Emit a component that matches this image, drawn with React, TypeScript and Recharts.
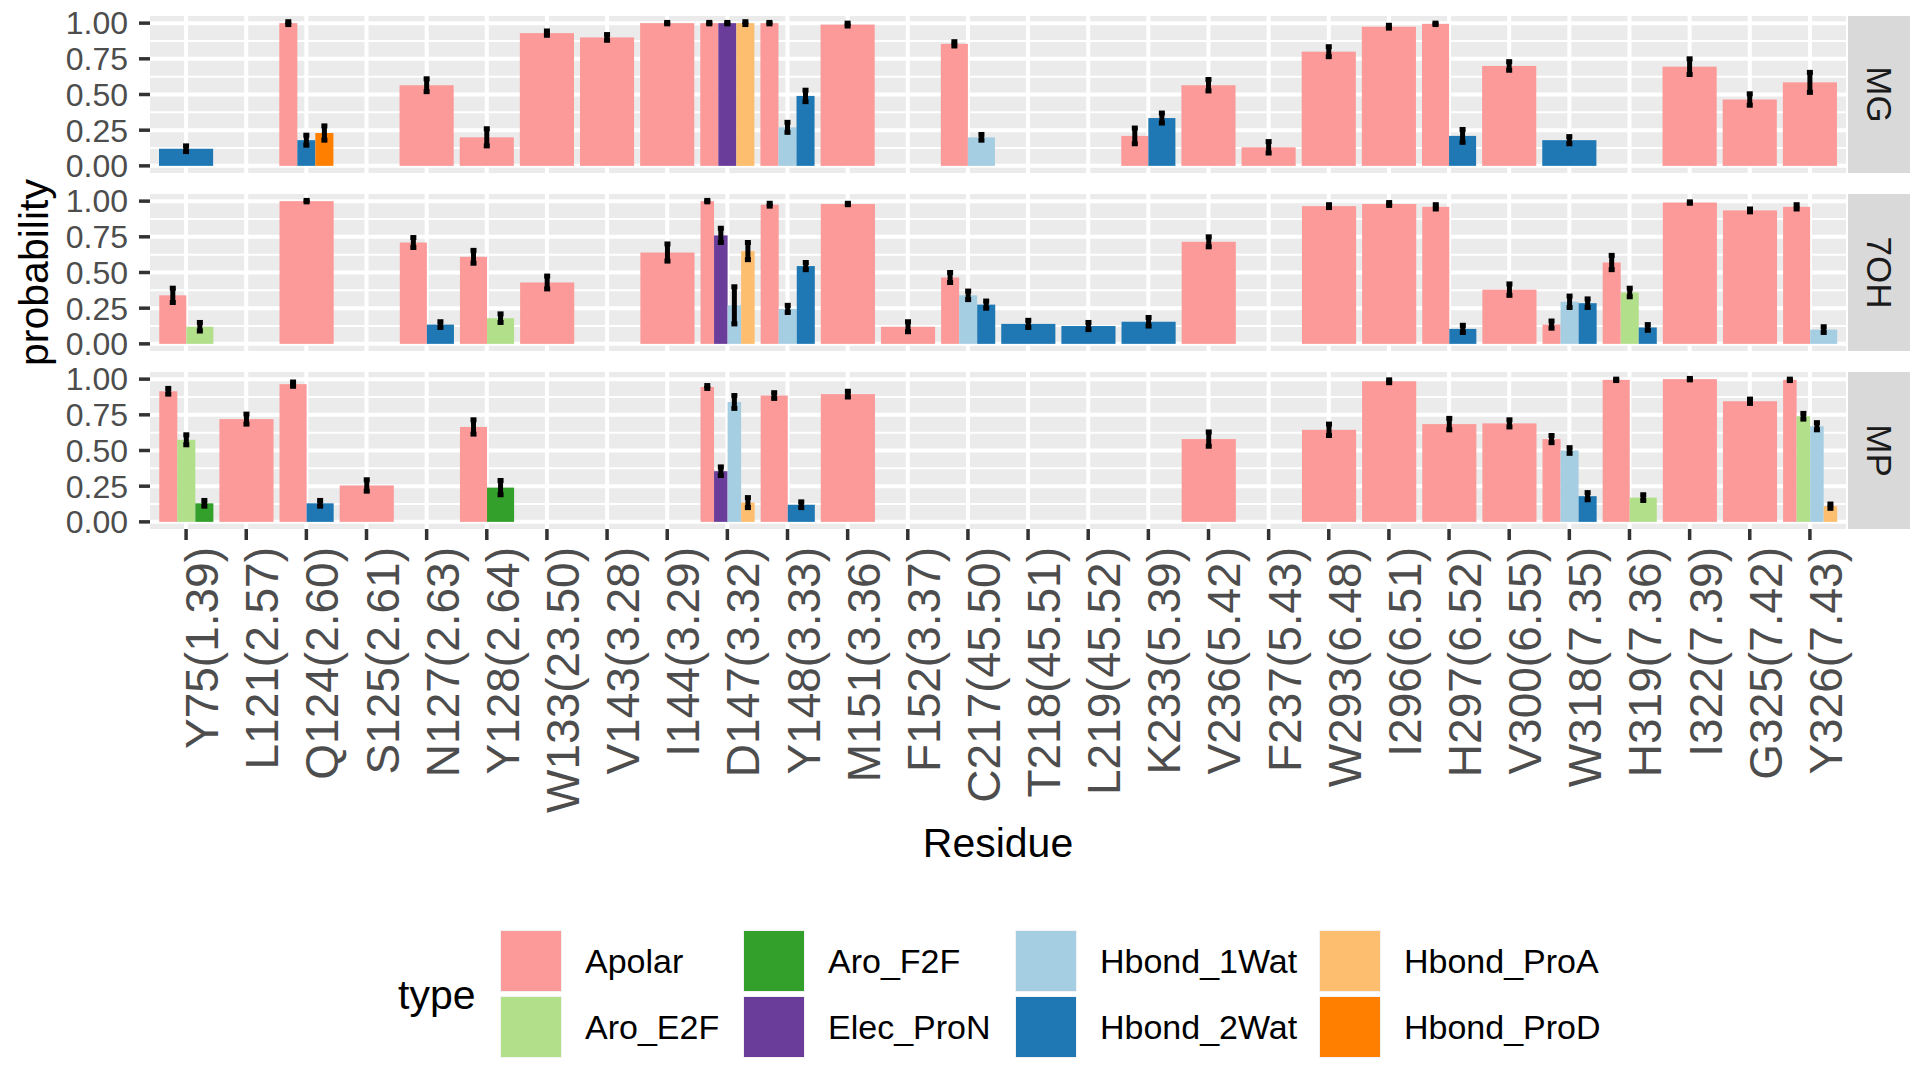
import { BarChart, Bar, XAxis, YAxis, CartesianGrid, ErrorBar } from 'recharts';

const residues = [
  'Y75(1.39)', 'L121(2.57)', 'Q124(2.60)', 'S125(2.61)', 'N127(2.63)', 'Y128(2.64)', 'W133(23.50)',
  'V143(3.28)', 'I144(3.29)', 'D147(3.32)', 'Y148(3.33)', 'M151(3.36)', 'F152(3.37)', 'C217(45.50)',
  'T218(45.51)', 'L219(45.52)', 'K233(5.39)', 'V236(5.42)', 'F237(5.43)', 'W293(6.48)', 'I296(6.51)',
  'H297(6.52)', 'V300(6.55)', 'W318(7.35)', 'H319(7.36)', 'I322(7.39)', 'G325(7.42)', 'Y326(7.43)',
];

const types = ['Apolar', 'Aro_E2F', 'Aro_F2F', 'Elec_ProN', 'Hbond_1Wat', 'Hbond_2Wat', 'Hbond_ProA', 'Hbond_ProD'];
const typeColors = ['#FB9A99', '#B2DF8A', '#33A02C', '#6A3D9A', '#A6CEE3', '#1F78B4', '#FDBF6F', '#FF7F00'];

const yTicks = [0, 0.25, 0.5, 0.75, 1];
const yMinor = [0.125, 0.375, 0.625, 0.875];

// [residue, type, probability, error]
type Row = [string, string, number, number];

const mgRows: Row[] = [
  ['Y75', 'Hbond_2Wat', 0.12, 0.02],
  ['Q124', 'Apolar', 1.0, 0.01],
  ['Q124', 'Hbond_2Wat', 0.18, 0.035],
  ['Q124', 'Hbond_ProD', 0.23, 0.05],
  ['N127', 'Apolar', 0.565, 0.045],
  ['Y128', 'Apolar', 0.2, 0.06],
  ['W133', 'Apolar', 0.93, 0.015],
  ['V143', 'Apolar', 0.9, 0.02],
  ['I144', 'Apolar', 1.0, 0.005],
  ['D147', 'Apolar', 1.0, 0.005],
  ['D147', 'Elec_ProN', 1.0, 0.005],
  ['D147', 'Hbond_ProA', 1.0, 0.01],
  ['Y148', 'Apolar', 1.0, 0.005],
  ['Y148', 'Hbond_1Wat', 0.27, 0.035],
  ['Y148', 'Hbond_2Wat', 0.49, 0.04],
  ['M151', 'Apolar', 0.99, 0.01],
  ['C217', 'Apolar', 0.855, 0.015],
  ['C217', 'Hbond_1Wat', 0.2, 0.02],
  ['K233', 'Apolar', 0.21, 0.055],
  ['K233', 'Hbond_2Wat', 0.335, 0.035],
  ['V236', 'Apolar', 0.565, 0.04],
  ['F237', 'Apolar', 0.13, 0.04],
  ['W293', 'Apolar', 0.8, 0.035],
  ['I296', 'Apolar', 0.975, 0.01],
  ['H297', 'Apolar', 0.995, 0.005],
  ['H297', 'Hbond_2Wat', 0.21, 0.045],
  ['V300', 'Apolar', 0.7, 0.03],
  ['W318', 'Hbond_2Wat', 0.18, 0.025],
  ['I322', 'Apolar', 0.695, 0.055],
  ['G325', 'Apolar', 0.465, 0.04],
  ['Y326', 'Apolar', 0.585, 0.07],
];

const ohRows: Row[] = [
  ['Y75', 'Apolar', 0.34, 0.05],
  ['Y75', 'Aro_E2F', 0.12, 0.03],
  ['Q124', 'Apolar', 1.0, 0.005],
  ['N127', 'Apolar', 0.71, 0.035],
  ['N127', 'Hbond_2Wat', 0.135, 0.02],
  ['Y128', 'Apolar', 0.61, 0.045],
  ['Y128', 'Aro_E2F', 0.18, 0.03],
  ['W133', 'Apolar', 0.43, 0.045],
  ['I144', 'Apolar', 0.64, 0.06],
  ['D147', 'Apolar', 1.0, 0.005],
  ['D147', 'Elec_ProN', 0.76, 0.05],
  ['D147', 'Hbond_1Wat', 0.27, 0.13],
  ['D147', 'Hbond_ProA', 0.65, 0.06],
  ['Y148', 'Apolar', 0.975, 0.01],
  ['Y148', 'Hbond_1Wat', 0.245, 0.025],
  ['Y148', 'Hbond_2Wat', 0.545, 0.025],
  ['M151', 'Apolar', 0.98, 0.005],
  ['F152', 'Apolar', 0.12, 0.035],
  ['C217', 'Apolar', 0.465, 0.035],
  ['C217', 'Hbond_1Wat', 0.34, 0.03],
  ['C217', 'Hbond_2Wat', 0.275, 0.025],
  ['T218', 'Hbond_2Wat', 0.14, 0.025],
  ['L219', 'Hbond_2Wat', 0.125, 0.025],
  ['K233', 'Hbond_2Wat', 0.155, 0.03],
  ['V236', 'Apolar', 0.715, 0.035],
  ['W293', 'Apolar', 0.965, 0.01],
  ['I296', 'Apolar', 0.98, 0.01],
  ['H297', 'Apolar', 0.96, 0.015],
  ['H297', 'Hbond_2Wat', 0.105, 0.025],
  ['V300', 'Apolar', 0.38, 0.04],
  ['W318', 'Apolar', 0.135, 0.025],
  ['W318', 'Hbond_1Wat', 0.295, 0.04],
  ['W318', 'Hbond_2Wat', 0.285, 0.03],
  ['H319', 'Apolar', 0.57, 0.05],
  ['H319', 'Aro_E2F', 0.36, 0.03],
  ['H319', 'Hbond_2Wat', 0.115, 0.02],
  ['I322', 'Apolar', 0.99, 0.005],
  ['G325', 'Apolar', 0.935, 0.01],
  ['Y326', 'Apolar', 0.96, 0.015],
  ['Y326', 'Hbond_1Wat', 0.1, 0.02],
];

const mpRows: Row[] = [
  ['Y75', 'Apolar', 0.915, 0.02],
  ['Y75', 'Aro_E2F', 0.575, 0.035],
  ['Y75', 'Aro_F2F', 0.13, 0.02],
  ['L121', 'Apolar', 0.72, 0.035],
  ['Q124', 'Apolar', 0.965, 0.015],
  ['Q124', 'Hbond_2Wat', 0.13, 0.02],
  ['S125', 'Apolar', 0.255, 0.04],
  ['Y128', 'Apolar', 0.665, 0.05],
  ['Y128', 'Aro_F2F', 0.24, 0.05],
  ['D147', 'Apolar', 0.945, 0.01],
  ['D147', 'Elec_ProN', 0.355, 0.03],
  ['D147', 'Hbond_1Wat', 0.84, 0.045],
  ['D147', 'Hbond_ProA', 0.135, 0.035],
  ['Y148', 'Apolar', 0.885, 0.02],
  ['Y148', 'Hbond_2Wat', 0.12, 0.02],
  ['M151', 'Apolar', 0.895, 0.02],
  ['V236', 'Apolar', 0.58, 0.05],
  ['W293', 'Apolar', 0.645, 0.04],
  ['I296', 'Apolar', 0.985, 0.01],
  ['H297', 'Apolar', 0.685, 0.04],
  ['V300', 'Apolar', 0.69, 0.025],
  ['W318', 'Apolar', 0.58, 0.025],
  ['W318', 'Hbond_1Wat', 0.5, 0.02],
  ['W318', 'Hbond_2Wat', 0.18, 0.025],
  ['H319', 'Apolar', 0.995, 0.005],
  ['H319', 'Aro_E2F', 0.17, 0.02],
  ['I322', 'Apolar', 1.0, 0.005],
  ['G325', 'Apolar', 0.845, 0.015],
  ['Y326', 'Apolar', 0.995, 0.005],
  ['Y326', 'Aro_E2F', 0.74, 0.02],
  ['Y326', 'Hbond_1Wat', 0.67, 0.025],
  ['Y326', 'Hbond_ProA', 0.11, 0.015],
];

const FONT = '"Liberation Sans", Arial, Helvetica, sans-serif';
const W = 1920;
const H = 1075;
const PLOT_LEFT = 150;
const PLOT_RIGHT = 1846;
const PANEL_H = 157;
const X_AXIS_H = 300;
const DOMAIN_SPAN = 28.2;
const pxPerUnit = (PLOT_RIGHT - PLOT_LEFT) / DOMAIN_SPAN;
const residueTicks = residues.map((_, i) => i + 1);

// ggplot-style dodge: bars share 0.9 of the slot, split among the types present
function buildPanel(rows: Row[]) {
  return rows.map(([code, type, p, err]) => {
    const idx = residues.findIndex((r) => r.startsWith(code + '(')) + 1;
    const group = rows
      .filter((r) => r[0] === code)
      .map((r) => types.indexOf(r[1]))
      .sort((a, b) => a - b);
    const w = 0.9 / group.length;
    const k = group.indexOf(types.indexOf(type));
    return { pos: idx - 0.45 + w * (k + 0.5), w, type, p, err };
  });
}

const panels = [
  { name: 'MG', rows: mgRows, top: 16 },
  { name: '7OH', rows: ohRows, top: 194 },
  { name: 'MP', rows: mpRows, top: 372 },
];

function DodgeBar(props: any) {
  const { x, y, width, height, payload } = props;
  const cx = x + width / 2;
  const bw = payload.w * pxPerUnit;
  return <rect x={cx - bw / 2} y={y} width={bw} height={height} fill={typeColors[types.indexOf(payload.type)]} />;
}

function ResidueTick(props: any) {
  const { x, y, payload } = props;
  return (
    <g transform={`translate(${x},${y})`}>
      <text transform="rotate(-90)" textAnchor="end" dy={32} fill="#4D4D4D" fontSize={46} fontFamily={FONT}>
        {residues[payload.value - 1]}
      </text>
    </g>
  );
}

function Panel({ rows, top, last }: { rows: Row[]; top: number; last: boolean }) {
  const data = buildPanel(rows);
  const bottom = last ? H - (top + PANEL_H) - X_AXIS_H : H - (top + PANEL_H);
  return (
    <div style={{ position: 'absolute', left: 0, top: 0 }}>
      <BarChart width={W} height={H} data={data} barSize={4} margin={{ top, right: W - PLOT_RIGHT, bottom, left: 0 }}>
        <CartesianGrid horizontalValues={yMinor} vertical={false} fill="#EBEBEB" stroke="#FFFFFF" strokeWidth={2} />
        <CartesianGrid horizontalValues={yTicks} verticalValues={residueTicks} stroke="#FFFFFF" strokeWidth={4} />
        <XAxis
          type="number"
          dataKey="pos"
          domain={[0.4, 28.6]}
          allowDataOverflow
          ticks={residueTicks}
          interval={0}
          hide={!last}
          height={X_AXIS_H}
          axisLine={false}
          tickSize={11}
          tickMargin={7}
          tickLine={{ stroke: '#333333', strokeWidth: 3.5 }}
          tick={<ResidueTick />}
        />
        <YAxis
          type="number"
          domain={[-0.05, 1.05]}
          allowDataOverflow
          ticks={yTicks}
          interval={0}
          width={PLOT_LEFT}
          axisLine={false}
          tickSize={11}
          tickMargin={11}
          tickLine={{ stroke: '#333333', strokeWidth: 3.5 }}
          tickFormatter={(v: number) => v.toFixed(2)}
          tick={{ fill: '#4D4D4D', fontSize: 32, fontFamily: FONT }}
        />
        <Bar dataKey="p" shape={DodgeBar} isAnimationActive={false}>
          <ErrorBar dataKey="err" width={3} strokeWidth={5} stroke="#000000" isAnimationActive={false} />
        </Bar>
      </BarChart>
    </div>
  );
}

const legendCols = [500, 743, 1015, 1319];
const legendRows = [930, 996];
const KEY = 62;

export default function App() {
  return (
    <div style={{ position: 'absolute', left: 0, top: 0, width: W, height: H, background: '#FFFFFF', fontFamily: FONT }}>
      <svg width={W} height={H} style={{ position: 'absolute', left: 0, top: 0 }}>
        {panels.map((p) => (
          <g key={p.name}>
            <rect x={1848} y={p.top} width={62} height={PANEL_H} fill="#D9D9D9" />
            <text
              transform={`translate(1879,${p.top + PANEL_H / 2}) rotate(90)`}
              textAnchor="middle"
              dominantBaseline="central"
              fontSize={35}
              fill="#1A1A1A"
              fontFamily={FONT}
            >
              {p.name}
            </text>
          </g>
        ))}
        <text
          transform={`translate(34,${(16 + 372 + PANEL_H) / 2}) rotate(-90)`}
          textAnchor="middle"
          dominantBaseline="central"
          fontSize={41}
          fill="#000000"
          fontFamily={FONT}
        >
          probability
        </text>
        <text x={(PLOT_LEFT + PLOT_RIGHT) / 2} y={843} textAnchor="middle" dominantBaseline="central" fontSize={41} fill="#000000" fontFamily={FONT}>
          Residue
        </text>
        <text x={398} y={995} dominantBaseline="central" fontSize={41} fill="#000000" fontFamily={FONT}>
          type
        </text>
        {types.map((t, i) => {
          const col = Math.floor(i / 2);
          const row = i % 2;
          const kx = legendCols[col];
          const ky = legendRows[row];
          return (
            <g key={t}>
              <rect x={kx} y={ky} width={KEY} height={KEY} fill="#F2F2F2" />
              <rect x={kx + 1} y={ky + 1} width={KEY - 2} height={KEY - 2} fill={typeColors[i]} />
              <text x={kx + KEY + 23} y={ky + KEY / 2} dominantBaseline="central" fontSize={34} fill="#000000" fontFamily={FONT}>
                {t}
              </text>
            </g>
          );
        })}
      </svg>
      {panels.map((p, i) => (
        <Panel key={p.name} rows={p.rows} top={p.top} last={i === panels.length - 1} />
      ))}
    </div>
  );
}
